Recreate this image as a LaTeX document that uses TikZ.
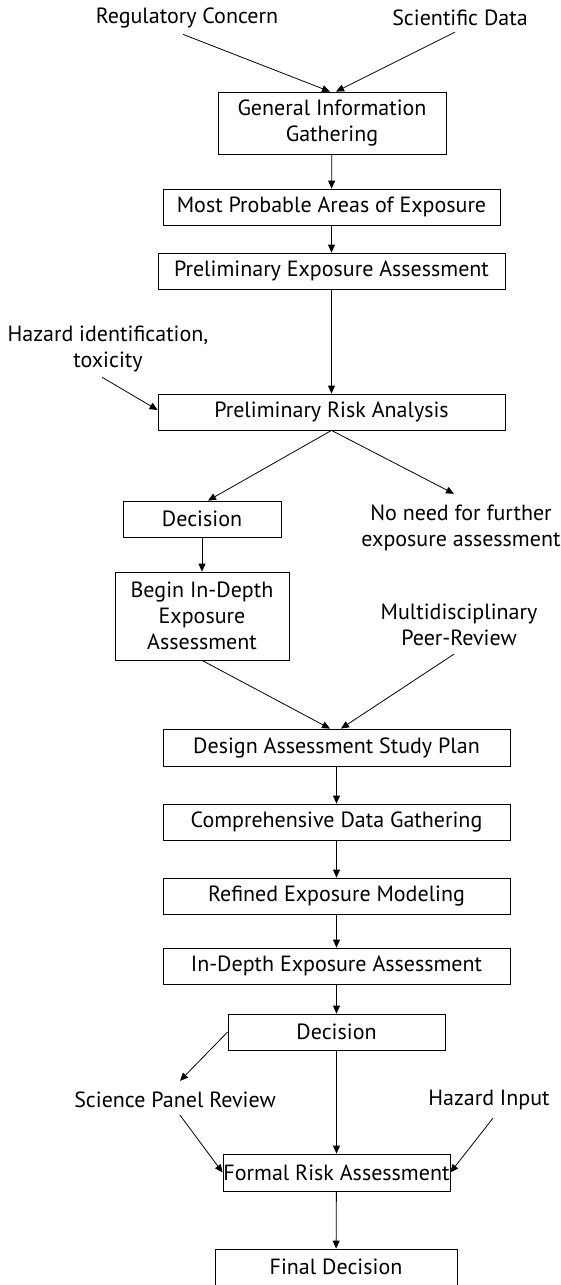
\documentclass[tikz,border=0pt]{standalone}
\usepackage{fontspec}
\setmainfont{PT Sans}
\usetikzlibrary{arrows.meta}

\tikzset{
    box/.style={draw, thick, align=center, inner sep=0pt},
    note/.style={align=center, inner sep=1pt},
}

\begin{document}
\begin{tikzpicture}[x=1pt, y=-1pt, font=\fontsize{22}{26}\selectfont,
        >={Triangle[length=8pt, width=7pt]}]
        \useasboundingbox (0, 0) rectangle (560, 1285);

        % inputs and first stage
        \node[note] (reg) at (187, 18) {Regulatory Concern};
        \node[note] (sci) at (460, 18) {Scientific Data};
        \node[box, minimum width=228pt, minimum height=62pt] (gig) at (332, 123) {General Information\\Gathering};
        \node[box, minimum width=337pt, minimum height=36pt] (mpae) at (331.5, 207) {Most Probable Areas of Exposure};
        \node[box, minimum width=347pt, minimum height=36pt] (pea) at (331.5, 271) {Preliminary Exposure Assessment};
        \node[note] (haz) at (108, 349) {Hazard identification,\\toxicity};
        \node[box, minimum width=347pt, minimum height=36pt] (pra) at (331.5, 412) {Preliminary Risk Analysis};
        \node[box, minimum width=158pt, minimum height=36pt] (dec1) at (202, 519) {Decision};
        \node[note] (noneed) at (461, 528) {No need for further\\exposure assessment};
        \node[box, minimum width=174pt, minimum height=88pt] (begin) at (202, 616) {Begin In-Depth\\Exposure\\Assessment};
        \node[note] (multi) at (459, 625) {Multidisciplinary\\Peer-Review};

        % in-depth stage
        \node[box, minimum width=347pt, minimum height=37pt] (dasp) at (336.5, 747.5) {Design Assessment Study Plan};
        \node[box, minimum width=347pt, minimum height=36pt] (cdg) at (336.5, 822) {Comprehensive Data Gathering};
        \node[box, minimum width=347pt, minimum height=36pt] (rem) at (336.5, 896) {Refined Exposure Modeling};
        \node[box, minimum width=347pt, minimum height=36pt] (idea) at (336.5, 966) {In-Depth Exposure Assessment};
        \node[box, minimum width=217pt, minimum height=36pt] (dec2) at (336.5, 1032) {Decision};
        \node[note] (spr) at (175, 1100) {Science Panel Review};
        \node[note] (hin) at (489, 1100) {Hazard Input};
        \node[box, minimum width=227pt, minimum height=37pt] (fra) at (336.5, 1172.5) {Formal Risk Assessment};
        \node[box, minimum width=242pt, minimum height=36pt] (final) at (336, 1267) {Final Decision};

        \draw[->, thick] ([xshift=-4pt, yshift=-5pt]reg.south) -- ([xshift=-2pt]gig.north);
        \draw[->, thick] ([xshift=-5pt, yshift=-5pt]sci.south) -- ([xshift=4pt]gig.north);
        \draw[->, thick] (gig) -- (mpae);
        \draw[->, thick] (mpae) -- (pea);
        \draw[->, thick] (pea) -- (pra);
        \draw[->, thick] ([xshift=-6pt, yshift=-4pt]haz.south) -- ([yshift=2pt]pra.west);
        \draw[->, thick] (pra.south) -- ([xshift=6pt]dec1.north);
        \draw[->, thick] (pra.south) -- ([xshift=-7pt, yshift=10pt]noneed.north);
        \draw[->, thick] (dec1) -- (begin);
        \draw[->, thick] (begin.south) -- ([xshift=-6.5pt]dasp.north);
        \draw[->, thick] ([xshift=-5pt, yshift=-7pt]multi.south) -- ([xshift=4.5pt]dasp.north);
        \draw[->, thick] (dasp) -- (cdg);
        \draw[->, thick] (cdg) -- (rem);
        \draw[->, thick] (rem) -- (idea);
        \draw[->, thick] (idea) -- (dec2);
        \draw[->, thick] (dec2.west) -- ([xshift=5pt, yshift=10pt]spr.north);
        \draw[->, thick] ([xshift=5pt, yshift=-6pt]spr.south) -- (fra.west);
        \draw[->, thick] ([xshift=4pt, yshift=-7pt]hin.south) -- (fra.east);
        \draw[->, thick] (dec2) -- (fra);
        \draw[->, thick] (fra) -- (final);
    \end{tikzpicture}
\end{document}
